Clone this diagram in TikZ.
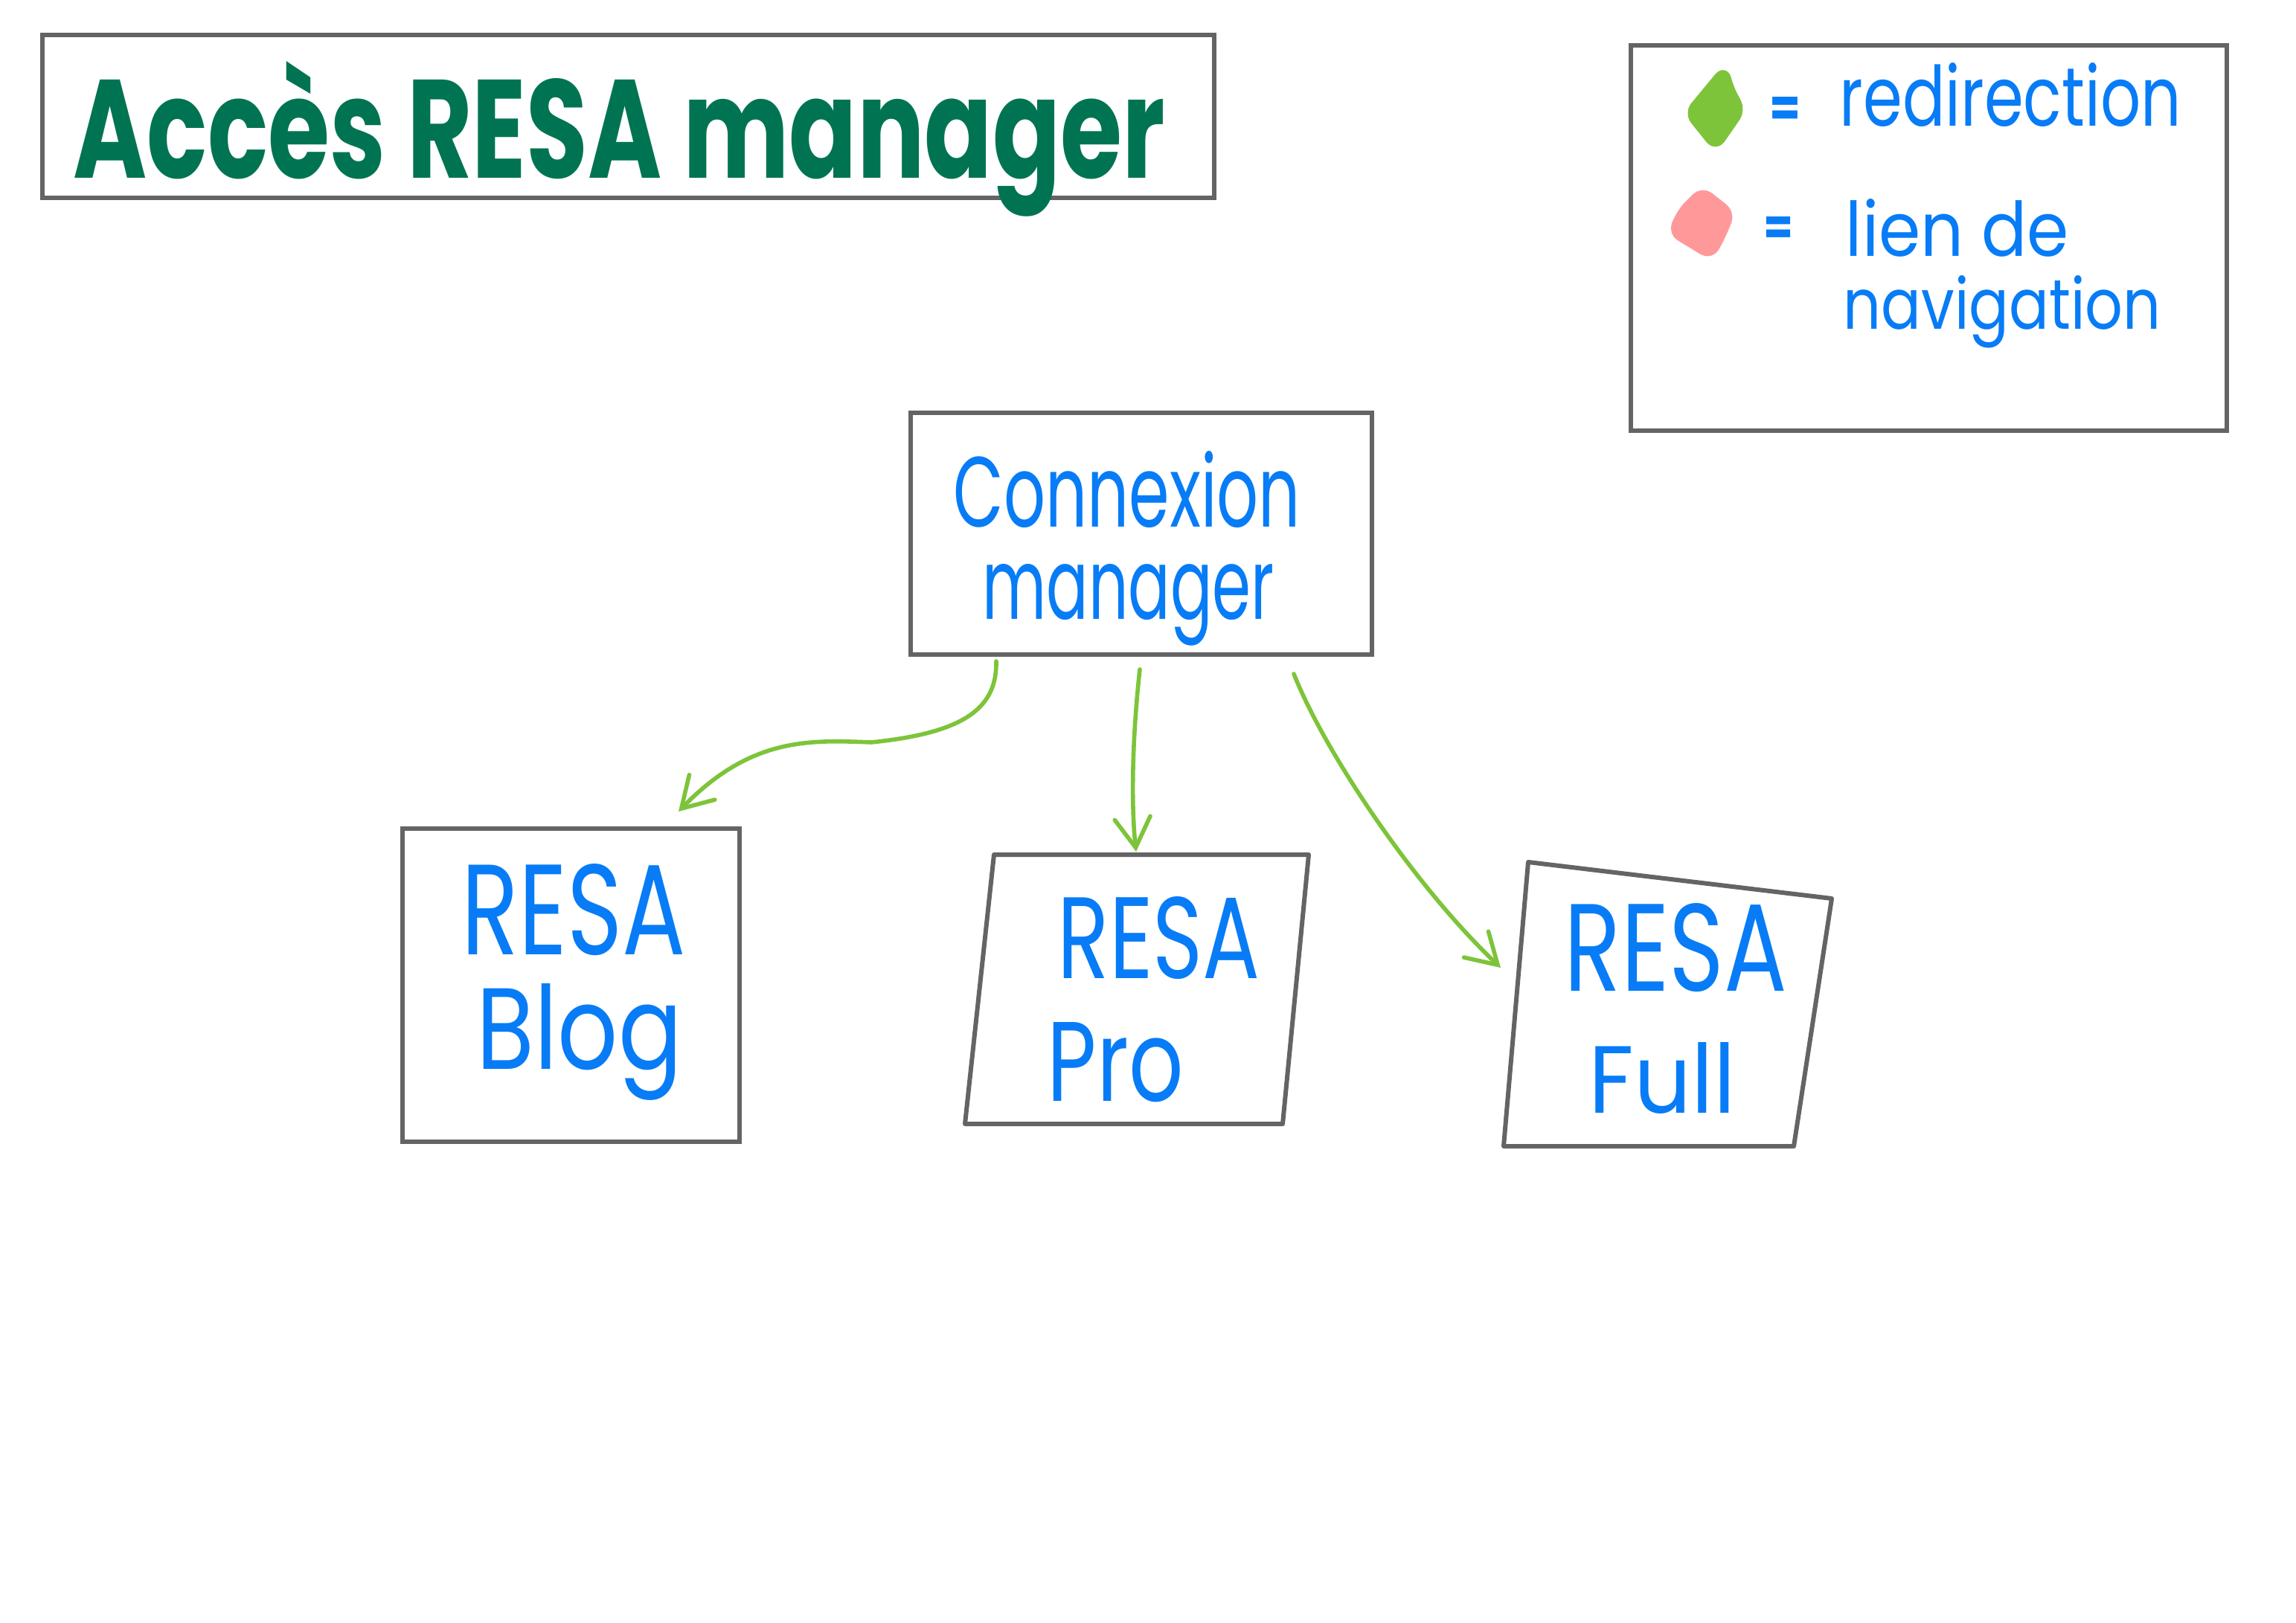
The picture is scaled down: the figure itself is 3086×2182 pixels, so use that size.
\documentclass[tikz,border=0pt]{standalone}
\usepackage{fontspec}
\setmainfont{Poppins}
\usepackage{graphicx}
\usetikzlibrary{arrows.meta,fit,calc}
\definecolor{boxgray}{RGB}{100,100,100}
\definecolor{inkblue}{RGB}{8,124,246}
\definecolor{arrowgreen}{RGB}{125,196,58}
\definecolor{titlegreen}{RGB}{0,116,82}
\definecolor{pinkink}{RGB}{255,153,153}
\newcommand\hw[3]{\resizebox{#1pt}{#2pt}{#3}}
\begin{document}
\begin{tikzpicture}[x=0.25pt,y=-0.25pt,
  frame/.style={draw=boxgray, line width=1.5pt, inner sep=0pt},
  hand/.style={inner sep=0pt, anchor=base west, text=inkblue},
  eqsign/.style={inner sep=0pt, anchor=center, text=inkblue, font=\bfseries},
  redir/.style={draw=arrowgreen, line width=1.4pt, line cap=round,
    -{Straight Barb[length=10pt,width=12pt,line cap=round]}}
]
\fill[white] (0,0) rectangle (3086,2182);
\useasboundingbox (0,0) rectangle (3086,2182);

% title
\node[frame, fit={(57,47) (1632,266)}] (titlebox) {};
\node[anchor=base west, inner sep=0pt, text=titlegreen, font=\bfseries] (title) at (98,240) {\hw{366.75}{39.25}{Accès RESA manager}};

% legend
\node[frame, fit={(2192,61) (2993,579)}] (legend) {};
\filldraw[fill=arrowgreen, draw=arrowgreen, line width=3pt, rounded corners=3pt, line join=round]
  (2318,94) -- (2324,118) -- (2340,148) -- (2306,197) -- (2270,152) -- cycle;
\filldraw[fill=pinkink, draw=pinkink, line width=3pt, rounded corners=3pt, line join=round]
  (2288,257) -- (2326,287) -- (2312,320) -- (2299,343) -- (2248,312) -- (2261,284) -- cycle;
\node[eqsign] (eq1) at (2399,151) {\resizebox{10.5pt}{10pt}{=}};
\node[hand] (redirtxt) at (2472,170) {\hw{114.75}{21.25}{redirection}};
\node[eqsign] (eq2) at (2390,311) {\resizebox{10pt}{9.5pt}{=}};
\node[hand] (lien) at (2480,345) {\hw{75}{19.25}{lien de}};
\node[hand] (navig) at (2477,443) {\hw{106.75}{18}{navigation}};

% connexion manager
\node[frame, fit={(1224,555) (1844,880)}] (conn) {};
\node[hand] (conn1) at (1281,708) {\hw{116.5}{25.5}{Connexion}};
\node[hand] (conn2) at (1320,832) {\hw{98}{18.5}{manager}};

% RESA Blog
\node[frame, fit={(541,1114) (994,1535)}] (blog) {};
\node[hand] (blog1) at (620,1283) {\hw{75.25}{30.5}{RESA}};
\node[hand] (blog2) at (640,1437) {\hw{69}{28.75}{Blog}};

% RESA Pro
\coordinate (proTL) at (1336,1149);
\coordinate (proTR) at (1759,1149);
\coordinate (proBR) at (1724,1511);
\coordinate (proBL) at (1297,1511);
\draw[boxgray, line width=1.5pt, line join=round] (proTL) -- (proTR) -- (proBR) -- (proBL) -- cycle;
\node[hand] (pro1) at (1421,1315) {\hw{68}{27.5}{RESA}};
\node[hand] (pro2) at (1407,1480) {\hw{45.75}{26.5}{Pro}};

% RESA Full
\coordinate (fullTL) at (2054,1159);
\coordinate (fullTR) at (2462,1208);
\coordinate (fullBR) at (2411,1541);
\coordinate (fullBL) at (2021,1541);
\draw[boxgray, line width=1.5pt, line join=round] (fullTL) -- (fullTR) -- (fullBR) -- (fullBL) -- cycle;
\node[hand] (full1) at (2102,1332) {\hw{74.75}{29.5}{RESA}};
\node[hand] (full2) at (2135,1496) {\hw{49.25}{23.75}{Full}};

% connectors
\coordinate (s1) at ($(conn.south west)+(118,6)$);
\coordinate (t1) at ($(blog.north east)+(-85,-20)$);
\coordinate (s2) at ($(conn.south west)+(311,17)$);
\coordinate (t2) at ($(proTL)+(191,-4)$);
\coordinate (s3) at ($(conn.south east)+(-108,23)$);
\coordinate (t3) at ($(fullBL)+(-4,-240)$);
\draw[redir] (s1) .. controls (1340,950) and (1300,985) .. (1171,998)
  .. controls (1090,995) and (1010,990) .. (t1);
\draw[redir] (s2) .. controls (1522,990) and (1520,1080) .. (t2);
\draw[redir] (s3) .. controls (1780,1010) and (1900,1190) .. (t3);
\end{tikzpicture}
\end{document}
